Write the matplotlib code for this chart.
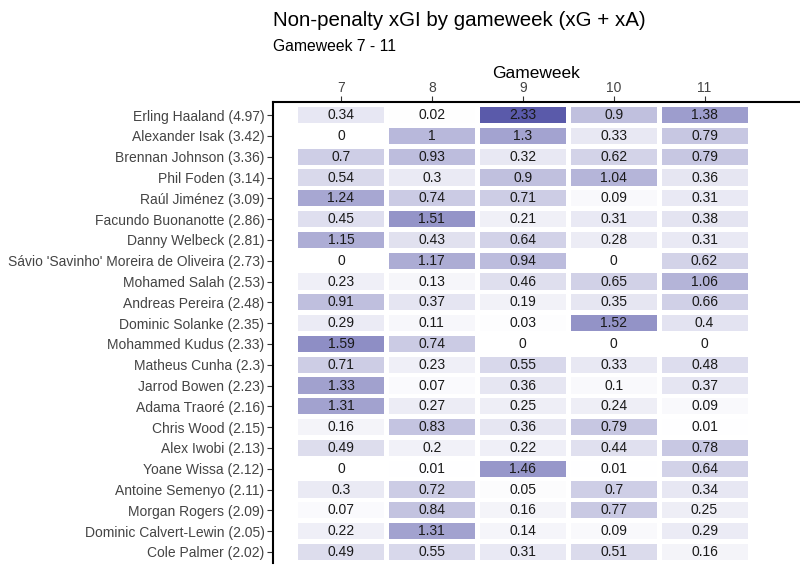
import matplotlib
matplotlib.use("Agg")
import matplotlib.pyplot as plt
import numpy as np
from matplotlib.colors import LinearSegmentedColormap

plt.rcParams['font.family'] = ['Liberation Sans', 'DejaVu Sans']

gameweeks = [7, 8, 9, 10, 11]
players = ["Erling Haaland", "Alexander Isak", "Brennan Johnson", "Phil Foden", "Raúl Jiménez",
           "Facundo Buonanotte", "Danny Welbeck", "Sávio 'Savinho' Moreira de Oliveira",
           "Mohamed Salah", "Andreas Pereira", "Dominic Solanke", "Mohammed Kudus",
           "Matheus Cunha", "Jarrod Bowen", "Adama Traoré", "Chris Wood", "Alex Iwobi",
           "Yoane Wissa", "Antoine Semenyo", "Morgan Rogers", "Dominic Calvert-Lewin",
           "Cole Palmer"]
totals = ["4.97", "3.42", "3.36", "3.14", "3.09", "2.86", "2.81", "2.73", "2.53", "2.48",
          "2.35", "2.33", "2.3", "2.23", "2.16", "2.15", "2.13", "2.12", "2.11", "2.09",
          "2.05", "2.02"]
values = [
    [0.34, 0.02, 2.33, 0.9, 1.38],
    [0, 1, 1.3, 0.33, 0.79],
    [0.7, 0.93, 0.32, 0.62, 0.79],
    [0.54, 0.3, 0.9, 1.04, 0.36],
    [1.24, 0.74, 0.71, 0.09, 0.31],
    [0.45, 1.51, 0.21, 0.31, 0.38],
    [1.15, 0.43, 0.64, 0.28, 0.31],
    [0, 1.17, 0.94, 0, 0.62],
    [0.23, 0.13, 0.46, 0.65, 1.06],
    [0.91, 0.37, 0.19, 0.35, 0.66],
    [0.29, 0.11, 0.03, 1.52, 0.4],
    [1.59, 0.74, 0, 0, 0],
    [0.71, 0.23, 0.55, 0.33, 0.48],
    [1.33, 0.07, 0.36, 0.1, 0.37],
    [1.31, 0.27, 0.25, 0.24, 0.09],
    [0.16, 0.83, 0.36, 0.79, 0.01],
    [0.49, 0.2, 0.22, 0.44, 0.78],
    [0, 0.01, 1.46, 0.01, 0.64],
    [0.3, 0.72, 0.05, 0.7, 0.34],
    [0.07, 0.84, 0.16, 0.77, 0.25],
    [0.22, 1.31, 0.14, 0.09, 0.29],
    [0.49, 0.55, 0.31, 0.51, 0.16],
]

labels = [f"{p} ({t})" for p, t in zip(players, totals)]
vals = np.array(values)
vmax = vals.max()
cmap = LinearSegmentedColormap.from_list("pur", ["#ffffff", "#5a5aaa"])

fig = plt.figure(figsize=(8, 5.71), dpi=100)
ax = fig.add_axes([0.341, 0.014, 0.659, 0.807])

w, h = 0.945, 0.78
for i in range(len(players)):
    for j, gw in enumerate(gameweeks):
        v = vals[i, j]
        ax.add_patch(plt.Rectangle((gw - w / 2, i - h / 2), w, h,
                                   facecolor=cmap(v / vmax), edgecolor='none'))
        ax.text(gw, i, f"{v:g}", ha='center', va='center', fontsize=10, color='#1a1a1a')

ax.set_xlim(6.25, 12.05)
ax.set_ylim(len(players) - 0.47, -0.62)
ax.set_xticks(gameweeks)
ax.set_xticklabels([str(g) for g in gameweeks])
ax.set_yticks(range(len(players)))
ax.set_yticklabels(labels)
ax.xaxis.tick_top()
ax.xaxis.set_label_position('top')
ax.set_xlabel("Gameweek", fontsize=12.5, labelpad=2)
ax.tick_params(axis='both', labelsize=10, labelcolor='#444444', color='#333333', length=4)
ax.tick_params(axis='x', pad=1)
ax.tick_params(axis='y', pad=2)
for s in ['right', 'bottom']:
    ax.spines[s].set_visible(False)
for s in ['left', 'top']:
    ax.spines[s].set_linewidth(1.5)
    ax.spines[s].set_color('black')

fig.text(0.341, 0.955, "Non-penalty xGI by gameweek (xG + xA)", fontsize=14.8, ha='left', va='baseline')
fig.text(0.341, 0.91, "Gameweek 7 - 11", fontsize=11.3, ha='left', va='baseline')

fig.savefig("out.png", dpi=100)
